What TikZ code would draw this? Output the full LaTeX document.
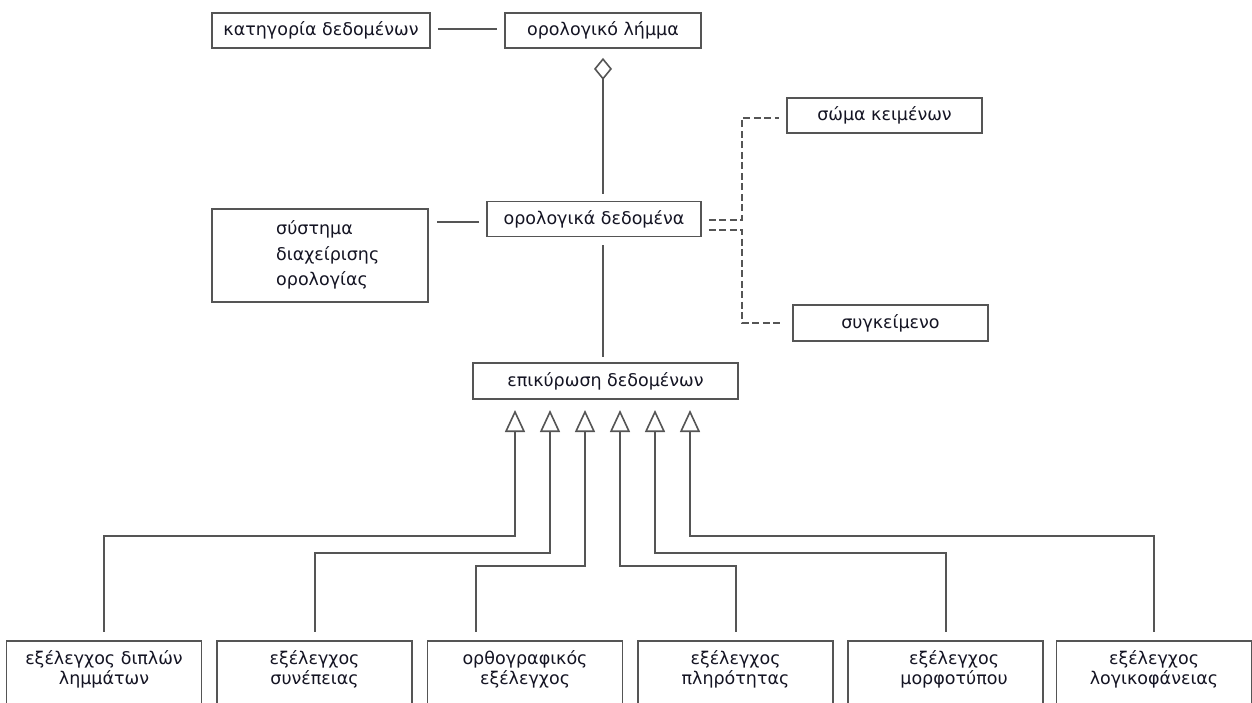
\documentclass[tikz,border=0pt]{standalone}
\usepackage{fontspec}
\setmainfont{DejaVu Sans}
\usetikzlibrary{arrows.meta,calc}
\definecolor{ln}{RGB}{85,85,85}
\definecolor{tx}{RGB}{20,20,35}
\begin{document}
\begin{tikzpicture}[x=1pt,y=-1pt,
  box/.style={draw=ln,line width=1.8pt,rectangle,inner sep=0pt,text=tx,font=\fontsize{17.5}{20}\selectfont},
  low/.style={box,minimum width=195,minimum height=90},
  btxt/.style={text=tx,font=\fontsize{17.5}{20.5}\selectfont,align=center,anchor=north,inner sep=0pt},
  conn/.style={draw=ln,line width=2pt},
  dconn/.style={conn,dash pattern=on 7pt off 3.5pt},
  gen/.style={conn,{Triangle[open,length=22pt,width=20pt,line width=1.6pt]}-,shorten >=8pt}]
\useasboundingbox (0,0) rectangle (1252,702);
\clip (0,0) rectangle (1252,702);
\fill[white] (0,0) rectangle (1252,702);
% top row
\node[box,minimum width=218,minimum height=35] (cat) at (321,30.5) {κατηγορία δεδομένων};
\node[box,minimum width=196,minimum height=35] (lemma) at (603,30.5) {ορολογικό λήμμα};
% middle
\node[box,minimum width=214,minimum height=35] (data) at (594,219) {ορολογικά δεδομένα};
\node[box,minimum width=216,minimum height=93] (tms) at (320,255.5) {};
\node[text=tx,font=\fontsize{17.5}{25.5}\selectfont,align=left,anchor=west,inner sep=0pt] (tmst) at (276,255) {σύστημα\\διαχείρισης\\ορολογίας};
\node[box,minimum width=195,minimum height=35] (corpus) at (884.5,115.5) {σώμα κειμένων};
\node[box,minimum width=195,minimum height=36] (context) at (890.5,323) {συγκείμενο};
\node[box,minimum width=265,minimum height=36] (valid) at (605.5,381) {επικύρωση δεδομένων};
% bottom
\node[low] (b1) at (104,686) {};
\node[low] (b2) at (314.5,686) {};
\node[low] (b3) at (525,686) {};
\node[low] (b4) at (735.5,686) {};
\node[low] (b5) at (945.5,686) {};
\node[low] (b6) at (1154,686) {};
\node[btxt] (t1) at (104,650) {εξέλεγχος διπλών\\λημμάτων};
\node[btxt] (t2) at (314.5,650) {εξέλεγχος\\συνέπειας};
\node[btxt] (t3) at (525,650) {ορθογραφικός\\εξέλεγχος};
\node[btxt] (t4) at (735.5,650) {εξέλεγχος\\πληρότητας};
\node[btxt] (t5) at (954,650) {εξέλεγχος\\μορφοτύπου};
\node[btxt] (t6) at (1154,650) {εξέλεγχος\\λογικοφάνειας};
% connectors
\draw[conn] ($(cat.east)+(7,-2)$) -- ($(lemma.west)+(-7,-2)$);
\draw[conn] ($(data.west)+(-7,3)$) -- ($(tms.east |- data.west)+(8,3)$);
\draw[conn,{Diamond[open,length=22pt,width=18pt,line width=1.6pt]}-,shorten <=9pt,shorten >=7pt] (lemma.south) -- (lemma.south |- data.north);
\draw[conn,shorten <=8pt,shorten >=5pt] (lemma.south |- data.south) -- (lemma.south |- valid.north);
\draw[dconn] ($(data.east)+(7,1)$) -| ($(corpus.west)+(-44,2.5)$) -- ($(corpus.west)+(-7,2.5)$);
\draw[dconn] ($(data.east)+(7,11)$) -| ($(context.west)+(-50,0)$) -- ($(context.west)+(-9,0)$);
% generalisations
\coordinate (a1) at (515,410);
\coordinate (a2) at (550,410);
\coordinate (a3) at (585,410);
\coordinate (a4) at (620,410);
\coordinate (a5) at (655,410);
\coordinate (a6) at (690,410);
\draw[gen] (a1) -- ++(0,126) -| (b1.north);
\draw[gen] (a2) -- ++(0,143) -| (b2.north);
\draw[gen] (a3) -- ++(0,156) -| ($(b3.north)+(-49,0)$);
\draw[gen] (a4) -- ++(0,156) -| (b4.north);
\draw[gen] (a5) -- ++(0,143) -| (b5.north);
\draw[gen] (a6) -- ++(0,126) -| (b6.north);
\end{tikzpicture}
\end{document}
